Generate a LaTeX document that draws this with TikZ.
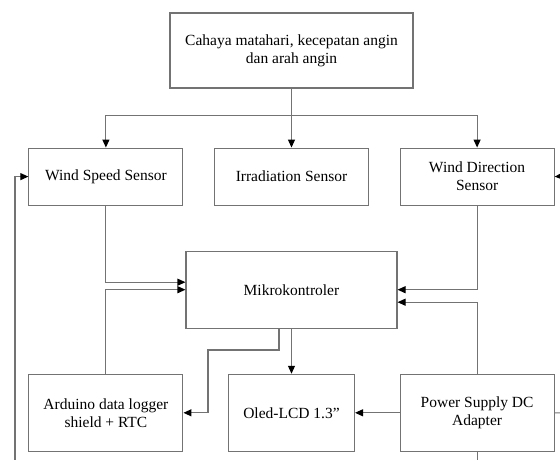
\documentclass[tikz,border=0pt]{standalone}
\usepackage{fontspec}
\setmainfont{Liberation Serif}
\usepackage{tikz}
\usetikzlibrary{positioning, arrows.meta}
\definecolor{boxgray}{gray}{0.45}

\begin{document}
\begin{tikzpicture}[x=1pt, y=-1pt, node distance=30.5pt,
  block/.style={draw=boxgray, line width=1.1pt, rectangle, minimum width=154pt, minimum height=57pt, align=center, font=\fontsize{15.5}{18}\selectfont},
  link/.style={draw=boxgray, line width=1.1pt},
  arr/.style={link, -{Triangle[length=8pt, width=7pt, color=black]}}]
  \path[use as bounding box] (0,0) rectangle (560,459);
  \clip (0,0) rectangle (560,459);

  % input and sensors
  \node[block, minimum width=243pt, minimum height=75pt] (input) at (291.5,50.5) {Cahaya matahari, kecepatan angin\\dan arah angin};
  \node[block, below=59pt of input] (irradiation) {Irradiation Sensor};
  \node[block, left=of irradiation] (speed) {Wind Speed Sensor};
  \node[block, right=of irradiation] (direction) {Wind Direction\\Sensor};

  % controller and outputs
  \node[block, below=45pt of irradiation, minimum width=211pt, minimum height=77pt] (mcu) {Mikrokontroler};
  \node[block, below=45pt of mcu, minimum width=126pt, minimum height=77pt] (oled) {Oled-LCD 1.3\symbol{34}};
  \node[block, left=44.5pt of oled, minimum height=77pt] (logger) {Arduino data logger\\shield + RTC};
  \node[block, right=44.5pt of oled, minimum height=77pt] (power) {Power Supply DC\\Adapter};

  \coordinate[below=27pt of input] (split);
  \coordinate (jog) at (208,350);
  \coordinate (rloop) at (574,175.5);
  \coordinate (lloop) at (15,472);

  \draw[arr] (input) -- (irradiation);
  \draw[arr] (split) -| (speed);
  \draw[arr] (split) -| (direction);

  \draw[arr] (speed.south) |- ([yshift=7.5pt]mcu.west);
  \draw[arr] (logger.north) |- (mcu.west);
  \draw[arr] (direction.south) |- (mcu.east);
  \draw[arr] (power.north) |- ([yshift=-12.5pt]mcu.east);

  \draw[arr] (mcu.south) -- (oled.north);
  \draw[arr] ([xshift=-12.5pt]mcu.south) |- (jog) |- (logger.east);
  \draw[arr] (power.west) -- (oled.east);

  % feedback loops (run off the frame)
  \draw[arr] (power.east) -| (rloop) -- (direction.east);
  \draw[arr] (power.south) |- (lloop) |- (speed.west);
\end{tikzpicture}
\end{document}
